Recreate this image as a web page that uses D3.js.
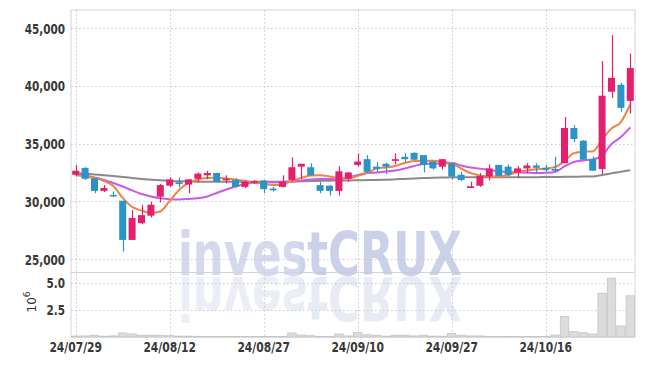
<!DOCTYPE html>
<html>
<head>
<meta charset="utf-8">
<script src="https://cdn.jsdelivr.net/npm/d3@7"></script>
<style>
  html, body { margin: 0; padding: 0; background: #fff; }
  svg { display: block; }
  .tick-label { font-family: "DejaVu Sans", sans-serif; font-size: 14.5px; font-weight: bold; fill: #383838; }
</style>
</head>
<body>
<div id="chart"></div>
<script>
// ---------- data ----------
const dates = ["24/07/29","24/07/30","24/07/31","24/08/01","24/08/02","24/08/05","24/08/06","24/08/07","24/08/08","24/08/09",
  "24/08/12","24/08/13","24/08/14","24/08/16","24/08/19","24/08/20","24/08/21","24/08/22","24/08/23","24/08/26",
  "24/08/27","24/08/28","24/08/29","24/08/30","24/09/02","24/09/03","24/09/04","24/09/05","24/09/06","24/09/09",
  "24/09/10","24/09/11","24/09/12","24/09/13","24/09/19","24/09/20","24/09/23","24/09/24","24/09/25","24/09/26",
  "24/09/27","24/09/30","24/10/02","24/10/04","24/10/07","24/10/08","24/10/10","24/10/11","24/10/14","24/10/15",
  "24/10/16","24/10/17","24/10/18","24/10/21","24/10/22","24/10/23","24/10/24","24/10/25","24/10/28","24/10/29"];
const xTickLabels = ["24/07/29","24/08/12","24/08/27","24/09/10","24/09/27","24/10/16"];
const priceTicks = [25000, 30000, 35000, 40000, 45000];
const volumeTicks = [2.5, 5.0];

const open  = [32300,32900,32000,30900,30550,30050,26650,28100,28750,30400,31350,31650,31450,31950,32250,32450,31850,31850,31250,31600,
               31800,31100,31250,31850,33000,32950,31400,31350,30900,31950,33150,33650,33000,33250,33500,33850,34200,34000,33450,33000,
               33300,32300,31150,31350,32150,33150,33000,32500,32850,33100,32900,32800,33300,36350,35250,33650,32800,39500,40100,38700];
const high  = [33150,32950,32000,31400,30850,30050,29250,29700,29950,31500,32100,32050,31900,32500,32650,32500,32250,32000,31800,31850,
               31850,31250,32250,33800,33250,33300,31700,31400,33050,32500,34150,34000,33400,33350,34150,34150,34250,34000,33450,33650,
               33300,32550,31700,32450,33200,33150,33200,33050,33300,33300,33150,33850,37300,36600,35300,33900,42150,44400,40250,42800];
const low   = [32150,31850,30700,30800,30350,25650,26650,28000,28600,29900,31250,31200,30700,31650,31900,31700,31550,31200,31150,31500,
               30700,30850,31200,31700,31950,32250,30700,30500,30500,31700,33000,32450,32550,32350,33200,33400,33600,32500,32750,32750,
               31850,31750,31150,31250,31800,32200,32150,32050,32450,32450,32550,32550,33300,35150,33600,32650,32350,38950,37750,37600];
const close = [32650,31950,30900,31150,30450,26650,28550,28800,29700,31400,31900,31500,31900,32400,32450,31700,31950,31250,31700,31750,
               31050,30950,31700,32950,33250,32250,30900,30900,32600,32500,33450,32550,32800,33000,33650,33650,33600,33150,32850,33650,
               32150,31850,31300,32200,32850,32200,32300,32850,33100,32900,32700,32650,36350,35400,33600,32650,39150,40700,38100,41550];
const volume = [0.08,0.10,0.16,0.08,0.10,0.37,0.28,0.16,0.16,0.16,0.12,0.08,0.08,0.06,0.05,0.05,0.06,0.05,0.05,0.05,
                0.06,0.05,0.06,0.37,0.18,0.12,0.06,0.06,0.28,0.10,0.40,0.21,0.16,0.08,0.16,0.16,0.10,0.16,0.08,0.08,
                0.33,0.16,0.10,0.10,0.06,0.06,0.06,0.06,0.06,0.06,0.06,0.18,1.90,0.49,0.40,0.28,4.05,5.43,1.02,3.80];
const maShort = [32280,32150,32020,31760,31330,30290,29510,29200,28990,29120,30030,30980,31590,31890,32020,32050,31980,31890,31760,31630,
                 31500,31410,31460,31760,32020,32240,32250,32150,32020,31990,32190,32450,32840,32930,33060,33320,33490,33520,33520,33450,
                 33280,32840,32450,32240,32150,32150,32280,32540,32670,32770,32840,32970,33490,34160,34300,34320,35360,36310,36870,38430];
const maMid   = [32370,32240,32060,31850,31590,31280,30940,30630,30420,30260,30180,30160,30200,30260,30420,30720,31020,31280,31500,31630,
                 31670,31650,31670,31720,31800,31890,31930,31930,31910,32060,32280,32450,32500,32580,32670,32840,33060,33230,33280,33290,
                 33320,33100,32930,32830,32710,32610,32540,32510,32480,32450,32470,32540,33020,33410,33540,33620,33970,34970,35570,36400];
const maLong  = [32450,32390,32320,32260,32190,32110,32020,31930,31870,31820,31760,31740,31720,31700,31700,31690,31690,31690,31690,31690,
                 31690,31700,31700,31710,31730,31750,31770,31790,31800,31810,31820,31840,31850,31870,31900,31940,31980,32010,32040,32060,
                 32080,32090,32090,32090,32090,32090,32090,32090,32090,32090,32100,32110,32120,32130,32140,32150,32280,32420,32560,32680];

// ---------- layout ----------
const W = 645, H = 366;
const left = 71, right = 635;
const pTop = 10, pBottom = 272, vTop = 272, vBottom = 337;

const svg = d3.select("#chart").append("svg").attr("width", W).attr("height", H);

const idx = d3.range(dates.length);
const x = d3.scaleBand().domain(idx).range([left, right]).padding(0);
const cx = i => x(i) + x.bandwidth() / 2;
const y = d3.scaleLinear().domain([23870, 46580]).range([pBottom, pTop]);
const yv = d3.scaleLinear().domain([0, 6]).range([vBottom, vTop]);

const gridColor = "#c9c9dc";

// condensed look for labels
function condense(sel, k) {
  sel.each(function () {
    const w = this.getComputedTextLength();
    d3.select(this).attr("textLength", w * k).attr("lengthAdjust", "spacingAndGlyphs");
  });
}

// watermark colour split ("invest" lighter, "CRUX" a bit stronger)
const defs = svg.append("defs");
const grad = defs.append("linearGradient").attr("id", "wmFill")
  .attr("gradientUnits", "userSpaceOnUse").attr("x1", 178).attr("x2", 462).attr("y1", 0).attr("y2", 0);
grad.append("stop").attr("offset", 0.43).attr("stop-color", "#cfd3ea");
grad.append("stop").attr("offset", 0.43).attr("stop-color", "#c3c9e4");

// frame
svg.append("rect").attr("x", left).attr("y", pTop).attr("width", right - left).attr("height", vBottom - pTop)
  .attr("fill", "none").attr("stroke", "#d4d4dc").attr("stroke-width", 1);
svg.append("line").attr("x1", left).attr("x2", right).attr("y1", pBottom + 0.5).attr("y2", pBottom + 0.5)
  .attr("stroke", "#d4d4dc");

// price axis + grid
const yAxis = d3.axisLeft(y).tickValues(priceTicks).tickFormat(d3.format(",")).tickSize(0).tickPadding(6);
const gy = svg.append("g").attr("transform", `translate(${left},0)`).call(yAxis);
gy.select(".domain").remove();
gy.selectAll("text").attr("class", "tick-label").attr("dy", "0.35em").call(condense, 0.72);
svg.append("g").selectAll("line").data(priceTicks).join("line")
  .attr("x1", left).attr("x2", right).attr("y1", d => Math.round(y(d)) + 0.5).attr("y2", d => Math.round(y(d)) + 0.5)
  .attr("stroke", gridColor).attr("stroke-dasharray", "1.5,2.5");

// volume axis + grid
const vAxis = d3.axisLeft(yv).tickValues(volumeTicks).tickFormat(d3.format(".1f")).tickSize(0).tickPadding(6);
const gv = svg.append("g").attr("transform", `translate(${left},0)`).call(vAxis);
gv.select(".domain").remove();
gv.selectAll("text").attr("class", "tick-label").attr("dy", "0.35em").call(condense, 0.72);
svg.append("g").selectAll("line").data(volumeTicks).join("line")
  .attr("x1", left).attr("x2", right).attr("y1", d => Math.round(yv(d)) + 0.5).attr("y2", d => Math.round(yv(d)) + 0.5)
  .attr("stroke", gridColor).attr("stroke-dasharray", "1.5,2.5");

// volume unit label
const unit = svg.append("text").attr("transform", "translate(36,302) rotate(-90)")
  .attr("text-anchor", "middle").style("font-family", "'DejaVu Sans', sans-serif").style("font-size", "12px").attr("fill", "#333");
unit.append("tspan").text("10");
unit.append("tspan").attr("dy", "-6").style("font-size", "9px").text("6");

// x axis (labels at selected dates)
const tickIdx = xTickLabels.map(t => dates.indexOf(t));
const xAxis = d3.axisBottom(x).tickValues(tickIdx).tickFormat(i => dates[i]).tickSize(0).tickPadding(5);
const gx = svg.append("g").attr("transform", `translate(0,${vBottom})`).call(xAxis);
gx.select(".domain").remove();
gx.selectAll("text").attr("class", "tick-label").call(condense, 0.74);
svg.append("g").selectAll("line").data(tickIdx).join("line")
  .attr("x1", i => Math.round(cx(i)) + 0.5).attr("x2", i => Math.round(cx(i)) + 0.5)
  .attr("y1", pTop).attr("y2", vBottom)
  .attr("stroke", gridColor).attr("stroke-dasharray", "1.5,2.5");

// watermark with reflection
function wmText(g) {
  g.append("text").attr("x", 178).attr("y", 275)
    .attr("textLength", 284).attr("lengthAdjust", "spacingAndGlyphs")
    .style("font-family", "'DejaVu Sans', sans-serif")
    .style("font-weight", "bold").style("font-size", "60px")
    .attr("fill", "url(#wmFill)")
    .text("investCRUX");
}
const wm = svg.append("g").attr("opacity", 0.85);
wmText(wm);
const refl = svg.append("g").attr("opacity", 0.38).attr("transform", "translate(0,552) scale(1,-1)");
wmText(refl);

// volume bars
svg.append("g").selectAll("rect").data(idx).join("rect")
  .attr("x", i => x(i) + 0.5).attr("width", x.bandwidth() - 1)
  .attr("y", i => yv(volume[i])).attr("height", i => vBottom - yv(volume[i]))
  .attr("fill", "#dcdcdc").attr("stroke", "#c4c4c4").attr("stroke-width", 0.8);

// moving averages
const line = arr => d3.line().x((d, i) => cx(i)).y(d => y(d)).curve(d3.curveMonotoneX)(arr);
svg.append("path").attr("d", line(maLong)).attr("fill", "none").attr("stroke", "#8a8a8a").attr("stroke-width", 2);
svg.append("path").attr("d", line(maMid)).attr("fill", "none").attr("stroke", "#cc5ae6").attr("stroke-width", 2);
svg.append("path").attr("d", line(maShort)).attr("fill", "none").attr("stroke", "#ee8548").attr("stroke-width", 2);

// candles
const up = "#e61e6e", down = "#2b94c7";
const col = i => close[i] >= open[i] ? up : down;
const cg = svg.append("g");
cg.selectAll("line").data(idx).join("line")
  .attr("x1", i => Math.round(cx(i)) + 0.5).attr("x2", i => Math.round(cx(i)) + 0.5)
  .attr("y1", i => y(high[i])).attr("y2", i => y(low[i]))
  .attr("stroke", col).attr("stroke-width", 1.2);
cg.selectAll("rect").data(idx).join("rect")
  .attr("x", i => cx(i) - 3.5).attr("width", 7)
  .attr("y", i => y(Math.max(open[i], close[i])))
  .attr("height", i => Math.max(1.5, Math.abs(y(open[i]) - y(close[i]))))
  .attr("fill", col);
</script>
</body>
</html>
